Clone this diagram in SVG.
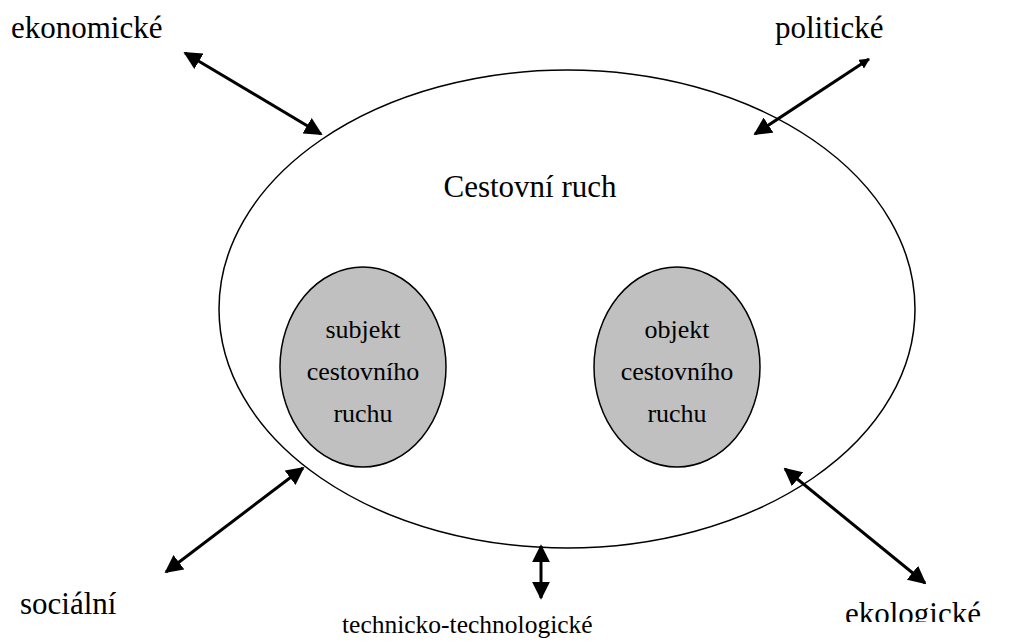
<svg xmlns="http://www.w3.org/2000/svg" width="1016" height="643" viewBox="0 0 1016 643">
<style>
.lbl{font-size:31px}
.in{font-size:26px;text-anchor:middle}
.arr{stroke:#000;stroke-width:3;fill:none;marker-start:url(#ah);marker-end:url(#ah)}
</style>
<defs>
<marker id="ah" viewBox="0 0 10 10" refX="9" refY="5" markerWidth="6" markerHeight="6" orient="auto-start-reverse" markerUnits="strokeWidth">
<path d="M0,0 L10,5 L0,10 Z" fill="#000"/>
</marker>
<marker id="ahs" viewBox="0 0 10 10" refX="9" refY="5" markerWidth="3.5" markerHeight="3.5" orient="auto" markerUnits="strokeWidth">
<path d="M0,0 L10,5 L0,10 Z" fill="#000"/>
</marker>
<clipPath id="clipeko"><rect x="0" y="0" width="1016" height="622"/></clipPath>
</defs>
<rect width="1016" height="643" fill="#fff"/>
<g font-family="'Liberation Serif', 'Times New Roman', Tinos, serif" fill="#000">
<g id="cestovni-ruch">
<ellipse cx="567" cy="309" rx="348" ry="239" fill="#fff" stroke="#000" stroke-width="1.5"/>
<text class="lbl" x="530" y="197" text-anchor="middle">Cestovní ruch</text>
</g>
<g id="subjekt">
<ellipse cx="363" cy="367" rx="83" ry="100" fill="#c0c0c0" stroke="#000" stroke-width="1.5"/>
<text class="in" x="363" y="338">subjekt</text>
<text class="in" x="363" y="380">cestovního</text>
<text class="in" x="363" y="422">ruchu</text>
</g>
<g id="objekt">
<ellipse cx="677" cy="367" rx="83" ry="100" fill="#c0c0c0" stroke="#000" stroke-width="1.5"/>
<text class="in" x="677" y="338">objekt</text>
<text class="in" x="677" y="380">cestovního</text>
<text class="in" x="677" y="422">ruchu</text>
</g>
<g id="labels">
<text class="lbl" x="11" y="38">ekonomické</text>
<text class="lbl" x="775" y="38">politické</text>
<text class="lbl" x="20" y="614">sociální</text>
<text x="342" y="633" font-size="25.5">technicko-technologické</text>
<text class="lbl" x="845" y="624" clip-path="url(#clipeko)">ekologické</text>
</g>
</g>
<g id="connectors">
<line class="arr" x1="185" y1="53" x2="321" y2="134"/>
<line x1="755" y1="134" x2="869" y2="59" stroke="#000" stroke-width="3" marker-start="url(#ah)" marker-end="url(#ahs)"/>
<line class="arr" x1="166" y1="572" x2="303" y2="468"/>
<line class="arr" x1="541" y1="546" x2="541" y2="598"/>
<line class="arr" x1="785" y1="469" x2="925" y2="583"/>
</g>
</svg>
